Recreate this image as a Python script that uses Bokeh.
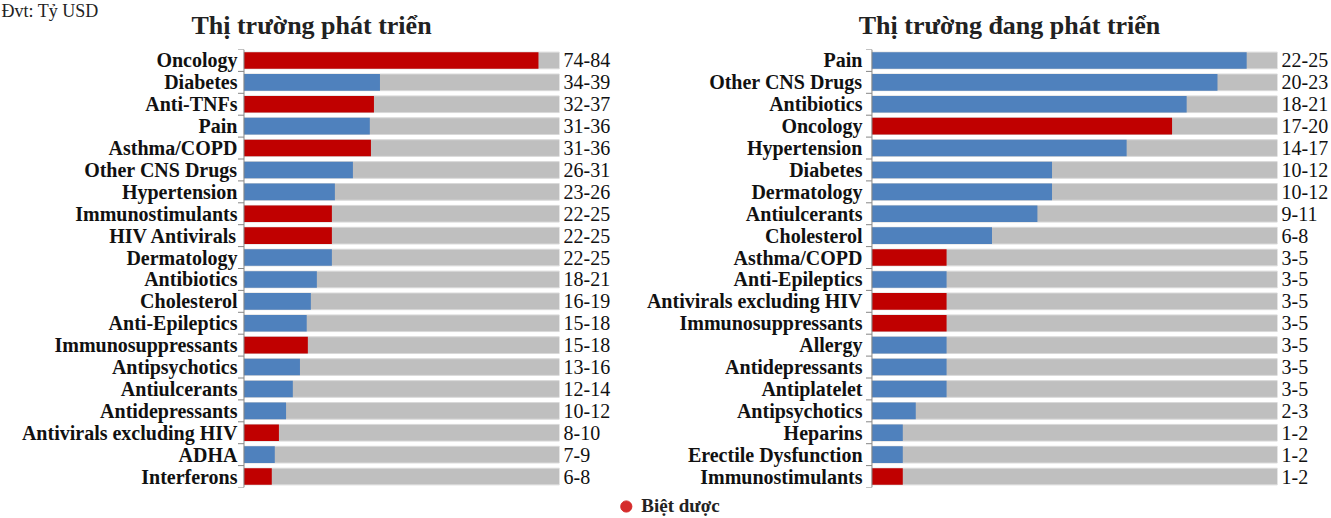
from bokeh.plotting import figure
from bokeh.models import (ColumnDataSource, Range1d, FixedTicker, LinearAxis,
                          Legend, LegendItem)
from bokeh.core.properties import value
from bokeh.layouts import column, row
from bokeh.embed import file_html
from bokeh.resources import INLINE

# ---------------- data ----------------
unit_label = "Đvt: Tỷ USD"
dev_title = "Thị trường phát triển"
emg_title = "Thị trường đang phát triển"
legend_label = "Biệt dược"

dev_categories = ["Oncology", "Diabetes", "Anti-TNFs", "Pain", "Asthma/COPD",
                  "Other CNS Drugs", "Hypertension", "Immunostimulants",
                  "HIV Antivirals", "Dermatology", "Antibiotics", "Cholesterol",
                  "Anti-Epileptics", "Immunosuppressants", "Antipsychotics",
                  "Antiulcerants", "Antidepressants", "Antivirals excluding HIV",
                  "ADHA", "Interferons"]
dev_values = [78.4, 36.2, 34.6, 33.5, 33.8, 29.0, 24.2, 23.4, 23.4, 23.4,
              19.4, 17.8, 16.7, 17.0, 14.9, 13.0, 11.2, 9.3, 8.2, 7.4]
dev_ranges = ["74-84", "34-39", "32-37", "31-36", "31-36", "26-31", "23-26",
              "22-25", "22-25", "22-25", "18-21", "16-19", "15-18", "15-18",
              "13-16", "12-14", "10-12", "8-10", "7-9", "6-8"]
dev_branded = [True, False, True, False, True, False, False, True, True, False,
               False, False, False, True, False, False, False, True, False, True]
dev_scale_max = 84

emg_categories = ["Pain", "Other CNS Drugs", "Antibiotics", "Oncology",
                  "Hypertension", "Diabetes", "Dermatology", "Antiulcerants",
                  "Cholesterol", "Asthma/COPD", "Anti-Epileptics",
                  "Antivirals excluding HIV", "Immunosuppressants", "Allergy",
                  "Antidepressants", "Antiplatelet", "Antipsychotics", "Heparins",
                  "Erectile Dysfunction", "Immunostimulants"]
emg_values = [23.1, 21.3, 19.4, 18.5, 15.7, 11.1, 11.1, 10.2, 7.4, 4.6,
              4.6, 4.6, 4.6, 4.6, 4.6, 4.6, 2.7, 1.9, 1.9, 1.9]
emg_ranges = ["22-25", "20-23", "18-21", "17-20", "14-17", "10-12", "10-12",
              "9-11", "6-8", "3-5", "3-5", "3-5", "3-5", "3-5", "3-5", "3-5",
              "2-3", "1-2", "1-2", "1-2"]
emg_branded = [False, False, False, True, False, False, False, False, False, True,
               False, True, True, False, False, False, False, False, False, True]
emg_scale_max = 25

# ---------------- style ----------------
RED = "#c00000"
BLUE = "#4f81bd"
GRAY = "#bfbfbf"
AXIS = "#868686"
FONT = "Liberation Serif"
TOTAL_W = 1331
HEAD_H = 44
MAIN_H = 452
LEG_H = 20
B_TOP = 5
B_BOTTOM = 9
TICK_PX = 6


def make_panel(categories, values, ranges, branded, scale_max, width,
               frame_left, border_right, name_standoff):
    n = len(categories)
    ypos = [n - 1 - i for i in range(n)]          # first category at top
    frame_w = width - frame_left - border_right
    px_per_unit = frame_w / scale_max
    tick_len = TICK_PX / px_per_unit                # 6 px in data units
    src = ColumnDataSource(dict(
        y=ypos,
        value=values,
        xmax=[scale_max] * n,
        color=[RED if b else BLUE for b in branded],
    ))
    bounds = [i - 0.5 for i in range(n + 1)]
    tick_src = ColumnDataSource(dict(
        y=bounds, x0=[-tick_len] * len(bounds), x1=[0] * len(bounds)))
    line_src = ColumnDataSource(dict(x=[0], y0=[bounds[0]], y1=[bounds[-1]]))

    p = figure(width=width, height=MAIN_H, output_backend="svg",
               toolbar_location=None, title=None,
               x_range=Range1d(-tick_len - 0.5 / px_per_unit, scale_max),
               y_range=Range1d(-0.5, n - 0.5),
               x_axis_location=None, y_axis_location=None,
               min_border_left=frame_left - TICK_PX, min_border_right=border_right,
               min_border_top=B_TOP, min_border_bottom=B_BOTTOM)
    p.outline_line_color = None
    p.background_fill_color = "white"
    p.grid.visible = False

    p.hbar(y="y", left=0, right="xmax", height=0.76, source=src,
           fill_color=GRAY, line_color="#d9d9d9", line_width=1)
    p.hbar(y="y", left=0, right="value", height=0.76, source=src,
           fill_color="color", line_color=None)

    # category axis line and ticks between categories
    p.segment(x0="x0", y0="y", x1="x1", y1="y", source=tick_src,
              line_color=AXIS, line_width=1)
    p.segment(x0="x", y0="y0", x1="x", y1="y1", source=line_src,
              line_color=AXIS, line_width=1)

    # category names
    name_axis = LinearAxis(
        ticker=FixedTicker(ticks=ypos),
        major_label_overrides={y: c for y, c in zip(ypos, categories)},
        major_tick_line_color=None, major_tick_out=0, major_tick_in=0,
        minor_tick_line_color=None, axis_line_color=None,
        major_label_standoff=name_standoff, major_label_text_font=FONT,
        major_label_text_font_size="20px", major_label_text_font_style="bold",
        major_label_text_color="#111111")
    p.add_layout(name_axis, "left")

    # value ranges
    range_axis = LinearAxis(
        ticker=FixedTicker(ticks=ypos),
        major_label_overrides={y: r for y, r in zip(ypos, ranges)},
        major_tick_line_color=None, major_tick_out=0, major_tick_in=0,
        minor_tick_line_color=None, axis_line_color=None,
        major_label_standoff=4, major_label_text_font=FONT,
        major_label_text_font_size="20px", major_label_text_color="#111111")
    p.add_layout(range_axis, "right")
    return p


p_dev = make_panel(dev_categories, dev_values, dev_ranges, dev_branded,
                   dev_scale_max, 640, 243, 81, 0)
p_emg = make_panel(emg_categories, emg_values, emg_ranges, emg_branded,
                   emg_scale_max, TOTAL_W - 640, 231, 52, 3)

# header strip with unit and panel titles
p_head = figure(width=TOTAL_W, height=HEAD_H, output_backend="svg",
                toolbar_location=None, title=None,
                x_range=Range1d(0, TOTAL_W), y_range=Range1d(HEAD_H, 0),
                x_axis_location=None, y_axis_location=None,
                min_border=0, min_border_left=0, min_border_right=0,
                min_border_top=0, min_border_bottom=0)
p_head.outline_line_color = None
p_head.grid.visible = False
p_head.text(x=[1], y=[0], text=[unit_label], text_align="left",
            text_baseline="top", text_font=value(FONT),
            text_font_size="18px", text_color="#222222")
p_head.text(x=[311, 1009], y=[25, 25], text=[dev_title, emg_title],
            text_align="center", text_baseline="middle",
            text_font=value(FONT), text_font_size="26px",
            text_font_style="bold", text_color="#222222")

# legend strip
p_leg = figure(width=TOTAL_W, height=LEG_H, output_backend="svg",
               toolbar_location=None, title=None,
               x_axis_location=None, y_axis_location=None,
               min_border=0, min_border_left=0, min_border_right=0,
               min_border_top=0, min_border_bottom=0)
p_leg.outline_line_color = None
p_leg.grid.visible = False
leg_src = ColumnDataSource(dict(x=[float("nan")], y=[float("nan")]))
r = p_leg.scatter(x="x", y="y", source=leg_src, marker="circle",
                  fill_color="#d52b2b", line_color="#d52b2b", size=11)
legend = Legend(items=[LegendItem(label=legend_label, renderers=[r])],
                location="center", orientation="horizontal",
                glyph_width=28, glyph_height=28, label_standoff=2,
                padding=0, margin=0, border_line_color=None,
                background_fill_alpha=0,
                label_text_font=FONT, label_text_font_size="19px",
                label_text_font_style="bold", label_text_color="#222222")
p_leg.add_layout(legend, "center")

layout = column(p_head, row(p_dev, p_emg), p_leg)

with open("out.html", "w") as f:
    f.write(file_html(layout, INLINE))
